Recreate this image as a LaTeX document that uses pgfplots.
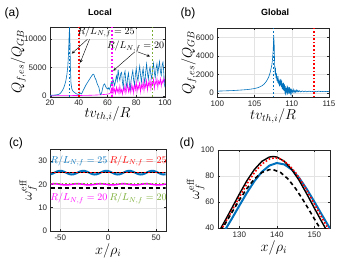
\documentclass[border=0pt]{standalone}
\usepackage[no-math]{fontspec}
\setmainfont{Liberation Sans}
\usepackage{pgfplots}
\pgfplotsset{compat=1.18}
\definecolor{mblue}{rgb}{0,0.447,0.741}
\definecolor{mred}{rgb}{1,0,0}
\definecolor{mmag}{rgb}{1,0,1}
\definecolor{mgreen}{rgb}{0.466,0.674,0.188}
\definecolor{axgray}{rgb}{0.15,0.15,0.15}
\pgfplotsset{
  mystyle/.style={
    scale only axis,
    anchor=south west,
    axis line style={axgray, line width=0.4pt},
    tick align=inside,
    major tick length=2pt,
    major tick style={axgray, line width=0.4pt},
    tick label style={font=\fontsize{8}{9}\selectfont, text=axgray},
    /pgf/number format/assume math mode=true,
    /pgf/number format/1000 sep={},
    scaled y ticks=false,
    scaled x ticks=false,
    grid=major,
    major grid style={gray!22, line width=0.3pt},
    label style={font=\fontsize{14}{15}\selectfont},
    clip=true,
  }
}
\begin{document}
\begin{tikzpicture}
\path[use as bounding box, fill=white] (0pt,0pt) rectangle (355pt,263pt);

% (a) Local
\begin{axis}[mystyle, at={(50pt,166.3pt)}, width=115pt, height=70pt,
  xmin=20, xmax=100, ymin=-150, ymax=12100,
  xtick={20,40,60,80,100}, ytick={0,5000,10000},
  xlabel={$tv_{th,i}/R$}, ylabel={$Q_{f,es}/Q_{GB}$},
  xlabel style={at={(axis description cs:0.5,-0.25)}, anchor=center},
  ylabel style={at={(axis description cs:-0.275,0.5)}, anchor=center}]
\addplot[mmag, line width=0.6pt] coordinates {
(20,20) (25,30) (30,40) (35,50) (40,60) (45,80) (50,120) (55,180) (58,250) (60,300) (61,350) (62,500)
(62.6,1200) (63.2,300) (63.8,1800) (64.4,600) (65,1200) (65.6,400) (66.2,1500) (66.8,700) (67.4,1300)
(68,400) (68.6,1700) (69.2,600) (69.8,1100) (70.4,300) (71,1400) (71.6,800) (72.2,1900) (72.8,500)
(73.4,1200) (74,2000) (74.6,700) (75.2,1500) (75.8,600) (76.4,2100) (77,900) (77.6,1700) (78.2,500)
(78.8,2200) (79.4,1100) (80,2400) (80.6,800) (81.2,1800) (81.8,1200) (82.4,2500) (83,700) (83.6,1900)
(84.2,1300) (84.8,2600) (85.4,900) (86,2100) (86.6,1500) (87.2,2700) (87.8,1000) (88.4,2300) (89,1700)
(89.6,2800) (90.2,1200) (90.8,2400) (91.4,1900) (92,2900) (92.6,1300) (93.2,2500) (93.8,2000) (94.4,3000)
(95,1500) (95.6,2600) (96.2,2100) (96.8,3000) (97.4,1700) (98,2700) (98.6,2200) (99.2,3100) (99.6,2400) (100,2900)};
\addplot[mblue, line width=0.6pt] coordinates {
(20,100) (22,120) (24,150) (26,250) (27,400) (28,700) (29,1100) (30,1700) (31,2600) (31.8,3800)
(32.4,5200) (32.9,7500) (33.3,10500) (33.6,12000) (33.9,9000) (34.2,5000) (34.6,2200) (35.2,1200)
(36,800) (37,600) (38,400) (39,300) (40,250) (41,500) (42,350) (43,900) (44,1400) (45,1900) (46,2300)
(47,2700) (48,3100) (49,3500) (50,3800) (50.6,3700) (51.2,3200) (52,2800) (52.6,2300) (53.2,1900)
(54,1500) (54.6,700) (55,200) (55.5,300) (56,600) (56.6,1300) (57.2,1900) (58,2100) (58.6,1700)
(59.2,1400) (60,1200) (60.6,1400) (61.2,1100) (62,1600) (62.6,2400) (63.2,2000) (63.8,2900) (64.4,2300)
(65,1800) (65.6,2700) (66.2,3500) (66.8,2600) (67.4,4600) (68,3300) (68.6,2700) (69.2,3900) (69.8,4100)
(70.4,2400) (71,1500) (71.6,3700) (72.2,4300) (72.8,2400) (73.4,1600) (74,3200) (74.6,4000) (75.2,2200)
(75.8,1200) (76.4,2700) (77,3600) (77.6,4400) (78.2,2700) (78.8,2000) (79.4,3700) (80,4800) (80.6,3400)
(81.2,2600) (81.8,4100) (82.4,5200) (83,3600) (83.6,2400) (84.2,3900) (84.8,4800) (85.4,3100) (86,2200)
(86.6,4200) (87.2,5600) (87.8,4000) (88.4,2900) (89,4300) (89.6,5000) (90.2,3700) (90.8,3000) (91.4,4700)
(92,5700) (92.6,4100) (93.2,3200) (93.8,4800) (94.4,5600) (95,3900) (95.6,5000) (96.2,6000) (96.8,4300)
(97.4,3600) (98,5400) (98.6,5900) (99.2,3900) (99.6,2000) (100,1500)};
\addplot[mblue, dotted, line width=1.6pt] coordinates {(33.7,-150) (33.7,12100)};
\addplot[mred, dotted, line width=1.6pt] coordinates {(40.2,-150) (40.2,12100)};
\addplot[mmag, dotted, line width=1.6pt] coordinates {(63.3,-150) (63.3,12100)};
\addplot[mgreen, dotted, line width=1.6pt] coordinates {(91.3,-150) (91.3,12100)};
\node at (axis cs:59,11200) {$R/L_{N,f}=25$};
\node at (axis cs:79.5,8650) {$R/L_{N,f}=20$};
\draw[-stealth, line width=0.4pt] (axis cs:46,9900) -- (axis cs:35.2,7400);
\draw[-stealth, line width=0.4pt] (axis cs:47.5,9900) -- (axis cs:41,5800);
\draw[-stealth, line width=0.4pt] (axis cs:79,7700) -- (axis cs:64,4400);
\draw[-stealth, line width=0.4pt] (axis cs:81,7700) -- (axis cs:89.6,6900);
\end{axis}

% (b) Global
\begin{axis}[mystyle, at={(217.3pt,165.7pt)}, width=111.7pt, height=69pt,
  xmin=100, xmax=115, ymin=-500, ymax=7000,
  xtick={100,105,110,115}, ytick={0,2000,4000,6000},
  xlabel={$tv_{th,i}/R$}, ylabel={$Q_{f,es}/Q_{GB}$},
  xlabel style={at={(axis description cs:0.5,-0.275)}, anchor=center},
  ylabel style={at={(axis description cs:-0.255,0.5)}, anchor=center}]
\addplot[mblue, line width=0.6pt] coordinates {
(100,170) (101,200) (102,230) (103,280) (104,340) (104.5,390) (105,450) (105.5,560) (106,750)
(106.3,950) (106.6,1250) (106.9,1700) (107.1,2200) (107.3,2900) (107.4,3500) (107.5,4600) (107.58,6200)
(107.64,5200) (107.7,3000) (107.76,2200) (107.82,2500) (107.88,1600) (107.94,2100) (108.0,1300)
(108.06,1800) (108.12,1100) (108.18,1500) (108.24,900) (108.3,1400) (108.36,700) (108.42,1200)
(108.48,800) (108.54,1500) (108.6,600) (108.66,1300) (108.72,400) (108.78,1000) (108.84,300)
(108.9,1100) (108.96,200) (109.02,900) (109.08,-100) (109.14,700) (109.2,-300) (109.26,500) (109.32,0)
(109.38,800) (109.44,-200) (109.5,400) (109.56,100) (109.62,600) (109.68,-100) (109.74,350) (109.8,0)
(109.86,450) (109.92,-150) (110.0,300) (110.1,50) (110.2,350) (110.3,0) (110.4,250) (110.5,50)
(110.6,300) (110.7,80) (110.8,250) (110.9,100) (111.0,220) (111.2,80) (111.4,200) (111.6,100)
(111.8,180) (112,90) (112.3,170) (112.6,110) (113,160) (113.3,100) (113.6,170) (114,110) (114.3,150)
(114.6,120) (115,140)};
\addplot[mblue, dotted, line width=1.6pt] coordinates {(107.57,-500) (107.57,7000)};
\addplot[mred, dotted, line width=1.6pt] coordinates {(113.0,-500) (113.0,7000)};
\end{axis}

% (c)
\begin{axis}[mystyle, at={(50.7pt,32pt)}, width=115pt, height=81.7pt,
  xmin=-60, xmax=60, ymin=0, ymax=35,
  xtick={-50,0,50}, ytick={0,10,20,30},
  xlabel={$x/\rho_i$}, ylabel={$\omega_f^{\mathrm{eff}}$},
  xlabel style={at={(axis description cs:0.5,-0.245)}, anchor=center},
  ylabel style={at={(axis description cs:-0.195,0.5)}, anchor=center}]
\addplot[mblue, line width=2pt] coordinates {
(-60,24.31) (-58,24.6) (-56,25) (-54,25.4) (-52,25.69) (-50,25.8) (-48,25.69) (-46,25.4) (-44,25) (-42,24.6) (-40,24.31) (-38,24.2)
(-36,24.31) (-34,24.6) (-32,25) (-30,25.4) (-28,25.69) (-26,25.8) (-24,25.69) (-22,25.4) (-20,25) (-18,24.6) (-16,24.31) (-14,24.2)
(-12,24.31) (-10,24.6) (-8,25) (-6,25.4) (-4,25.69) (-2,25.8) (0,25.69) (2,25.4) (4,25) (6,24.6) (8,24.31) (10,24.2)
(12,24.31) (14,24.6) (16,25) (18,25.4) (20,25.69) (22,25.8) (24,25.69) (26,25.4) (28,25) (30,24.6) (32,24.31) (34,24.2)
(36,24.31) (38,24.6) (40,25) (42,25.4) (44,25.69) (46,25.8) (48,25.69) (50,25.4) (52,25) (54,24.6) (56,24.31) (58,24.2) (60,24.31)};
\addplot[black, line width=0.8pt] coordinates {(-60,25) (60,25)};
\addplot[mred, dotted, line width=1.6pt] coordinates {(-60,25.1) (60,25.1)};
\addplot[mmag, line width=1.6pt] coordinates {
(-60,20.13) (-58,20.22) (-56,20.25) (-54,20.22) (-52,20.13) (-50,20) (-48,19.87) (-46,19.78) (-44,19.75) (-42,19.78) (-40,19.87) (-38,20)
(-36,20.13) (-34,20.22) (-32,20.25) (-30,20.22) (-28,20.13) (-26,20) (-24,19.87) (-22,19.78) (-20,19.75) (-18,19.78) (-16,19.87) (-14,20)
(-12,20.13) (-10,20.22) (-8,20.25) (-6,20.22) (-4,20.13) (-2,20) (0,19.87) (2,19.78) (4,19.75) (6,19.78) (8,19.87) (10,20)
(12,20.13) (14,20.22) (16,20.25) (18,20.22) (20,20.13) (22,20) (24,19.87) (26,19.78) (28,19.75) (30,19.78) (32,19.87) (34,20)
(36,20.13) (38,20.22) (40,20.25) (42,20.22) (44,20.13) (46,20) (48,19.87) (50,19.78) (52,19.75) (54,19.78) (56,19.87) (58,20) (60,20.13)};
\addplot[mgreen, dotted, line width=1.6pt] coordinates {(-60,20.4) (60,20.4)};
\addplot[black, dash pattern=on 4pt off 3pt, line width=1.6pt] coordinates {(-60,18.4) (60,18.4)};
\node[text=mblue] at (axis cs:-30.5,30.1) {$R/L_{N,f}=25$};
\node[text=mred] at (axis cs:31.1,30.1) {$R/L_{N,f}=25$};
\node[text=mmag] at (axis cs:-30.5,14.0) {$R/L_{N,f}=20$};
\node[text=mgreen] at (axis cs:31.1,14.0) {$R/L_{N,f}=20$};
\end{axis}

% (d)
\begin{axis}[mystyle, at={(217.7pt,35pt)}, width=112.3pt, height=78pt,
  xmin=124.2, xmax=154.2, ymin=40, ymax=100,
  xtick={130,140,150}, ytick={40,60,80,100},
  xlabel={$x/\rho_i$}, ylabel={$\omega_f^{\mathrm{eff}}$},
  xlabel style={at={(axis description cs:0.5,-0.25)}, anchor=center},
  ylabel style={at={(axis description cs:-0.195,0.5)}, anchor=center}]
\addplot[mblue, line width=2pt] coordinates {
(124,29.1) (126,37.7) (128,47.3) (130,57.3) (132,67.1) (134,76.0) (136,83.2) (138,88.0) (140,90.0)
(142,88.9) (144,84.9) (146,78.4) (148,69.9) (150,60.3) (152,50.3) (154,40.5) (156,31.0)};
\addplot[black, line width=1.4pt] coordinates {
(124,34.9) (125,39.7) (126,44.8) (128,55.4) (130,66.2) (132,76.4) (134,85.0) (136,91.3) (138,94.6) (139,95)
(140,94.6) (142,91.3) (144,85.0) (146,76.4) (148,66.2) (150,55.4) (152,44.8) (153,39.7) (154,34.9)};
\addplot[mred, dotted, line width=1.6pt] coordinates {
(124,33.6) (126,43.0) (128,53.3) (130,63.8) (132,73.9) (134,82.6) (136,89.2) (138,93.1) (139.5,94)
(141,93.1) (143,89.2) (145,82.6) (147,73.9) (149,63.8) (151,53.3) (153,43.0) (154,38.2)};
\addplot[black, dash pattern=on 4pt off 3pt, line width=1.6pt] coordinates {
(124,33.3) (126,42.3) (128,52.0) (130,61.6) (132,70.4) (134,77.7) (136,82.7) (138,84.9) (139,84.9)
(141,82.7) (143,77.7) (145,70.4) (147,61.6) (149,52.0) (151,42.3) (153,33.3)};
\end{axis}

% titles and panel letters
\node[font=\bfseries\fontsize{9}{10}\selectfont] at (100pt,250.3pt) {Local};
\node[font=\bfseries\fontsize{9}{10}\selectfont] at (275pt,250.3pt) {Global};
\node[font=\fontsize{12}{13}\selectfont] at (12pt,250pt) {(a)};
\node[font=\fontsize{12}{13}\selectfont] at (188pt,250pt) {(b)};
\node[font=\fontsize{12}{13}\selectfont] at (16pt,119.5pt) {(c)};
\node[font=\fontsize{12}{13}\selectfont] at (187pt,120pt) {(d)};
\end{tikzpicture}
\end{document}
